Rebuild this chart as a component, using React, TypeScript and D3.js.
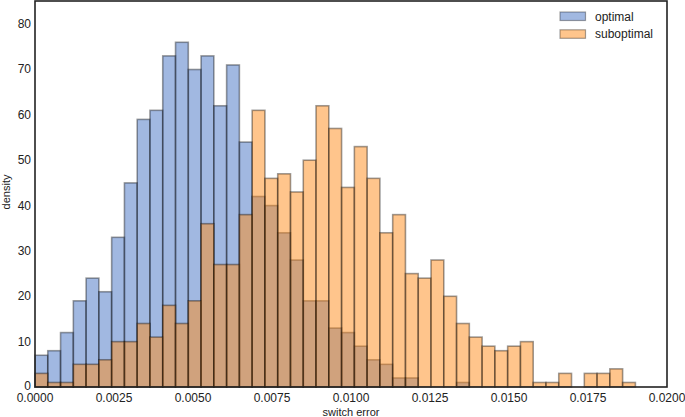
import { useRef, useEffect } from "react";
import * as d3 from "d3";

// histogram bins (shared edges), 47 bins from 0 to 0.019
const binCount = 47;
const binMax = 0.019;

const optimal = [
  7, 8, 12, 19, 24, 21, 33, 45, 59, 61, 73, 76, 70, 73, 62, 71, 54, 42, 40, 34, 28, 19, 19, 13,
  12, 9, 6, 5, 2, 2, 0, 0, 0, 1, 0, 0, 0, 0, 0, 0, 0, 0, 0, 0, 0, 0, 0,
];

const suboptimal = [
  3, 1, 1, 5, 5, 6, 10, 10, 14, 11, 18, 14, 19, 36, 27, 27, 38, 61, 46, 47, 43, 50, 62, 57, 44,
  53, 46, 34, 38, 25, 24, 28, 20, 14, 11, 9, 8, 9, 10, 1, 1, 3, 0, 3, 3, 4, 1,
];

const xTicks = [0, 0.0025, 0.005, 0.0075, 0.01, 0.0125, 0.015, 0.0175, 0.02];
const yTicks = [0, 10, 20, 30, 40, 50, 60, 70, 80];

const series = [
  { name: "optimal", values: optimal, color: "#4472c4" },
  { name: "suboptimal", values: suboptimal, color: "#ff8c1a" },
];

const W = 685;
const H = 417;
const margin = { top: 1, right: 18, bottom: 30, left: 35 };
const font = "Liberation Sans, Arial, sans-serif";

const Histogram = () => {
  const svgRef = useRef<SVGSVGElement>(null);

  useEffect(() => {
    const svg = d3.select(svgRef.current);
    svg.selectAll("*").remove();

    const x = d3.scaleLinear().domain([0, 0.02]).range([margin.left, W - margin.right]);
    const y = d3.scaleLinear().domain([0, 85.1]).range([H - margin.bottom, margin.top]);
    const bw = binMax / binCount;

    // bars
    series.forEach((s) => {
      svg
        .append("g")
        .selectAll("rect")
        .data(s.values.map((v, i) => ({ v, i })).filter((d) => d.v > 0))
        .enter()
        .append("rect")
        .attr("x", (d) => x(d.i * bw))
        .attr("y", (d) => y(d.v))
        .attr("width", (d) => x((d.i + 1) * bw) - x(d.i * bw))
        .attr("height", (d) => y(0) - y(d.v))
        .attr("fill", s.color)
        .attr("fill-opacity", 0.5)
        .attr("stroke", "#000")
        .attr("stroke-opacity", 0.38)
        .attr("stroke-width", 1.6);
    });

    // frame
    svg
      .append("rect")
      .attr("x", margin.left)
      .attr("y", margin.top)
      .attr("width", W - margin.right - margin.left)
      .attr("height", H - margin.bottom - margin.top)
      .attr("fill", "none")
      .attr("stroke", "#222")
      .attr("stroke-width", 1.6);

    // x tick labels
    svg
      .append("g")
      .selectAll("text")
      .data(xTicks)
      .enter()
      .append("text")
      .attr("x", (d) => x(d))
      .attr("y", y(0) + 14.5)
      .attr("text-anchor", "middle")
      .style("font-family", font)
      .style("font-size", "12px")
      .style("fill", "#222")
      .text((d) => d3.format(".4f")(d));

    // y tick labels
    svg
      .append("g")
      .selectAll("text")
      .data(yTicks)
      .enter()
      .append("text")
      .attr("x", margin.left - 4)
      .attr("y", (d) => y(d) + (d === 0 ? 2.5 : 4))
      .attr("text-anchor", "end")
      .style("font-family", font)
      .style("font-size", "12px")
      .style("fill", "#222")
      .text((d) => d);

    // axis labels
    svg
      .append("text")
      .attr("x", (margin.left + W - margin.right) / 2)
      .attr("y", H - 1.5)
      .attr("text-anchor", "middle")
      .style("font-family", font)
      .style("font-size", "11px")
      .style("fill", "#222")
      .text("switch error");

    svg
      .append("text")
      .attr("transform", `translate(10,${y(43)}) rotate(-90)`)
      .attr("text-anchor", "middle")
      .style("font-family", font)
      .style("font-size", "11px")
      .style("fill", "#222")
      .text("density");

    // legend
    const legend = svg.append("g").attr("transform", "translate(560,12)");
    series.forEach((s, i) => {
      legend
        .append("rect")
        .attr("x", 0)
        .attr("y", i * 17.8)
        .attr("width", 25.5)
        .attr("height", 8.5)
        .attr("fill", s.color)
        .attr("fill-opacity", 0.5)
        .attr("stroke", "#000")
        .attr("stroke-opacity", 0.35)
        .attr("stroke-width", 1.2);
      legend
        .append("text")
        .attr("x", 35)
        .attr("y", i * 17.8 + 8.5)
        .style("font-family", font)
        .style("font-size", "12px")
        .style("fill", "#222")
        .text(s.name);
    });
  }, []);

  return <svg ref={svgRef} width={W} height={H} style={{ display: "block" }}></svg>;
};

export default function App() {
  useEffect(() => {
    document.body.style.margin = "0";
  }, []);
  return <Histogram />;
}
